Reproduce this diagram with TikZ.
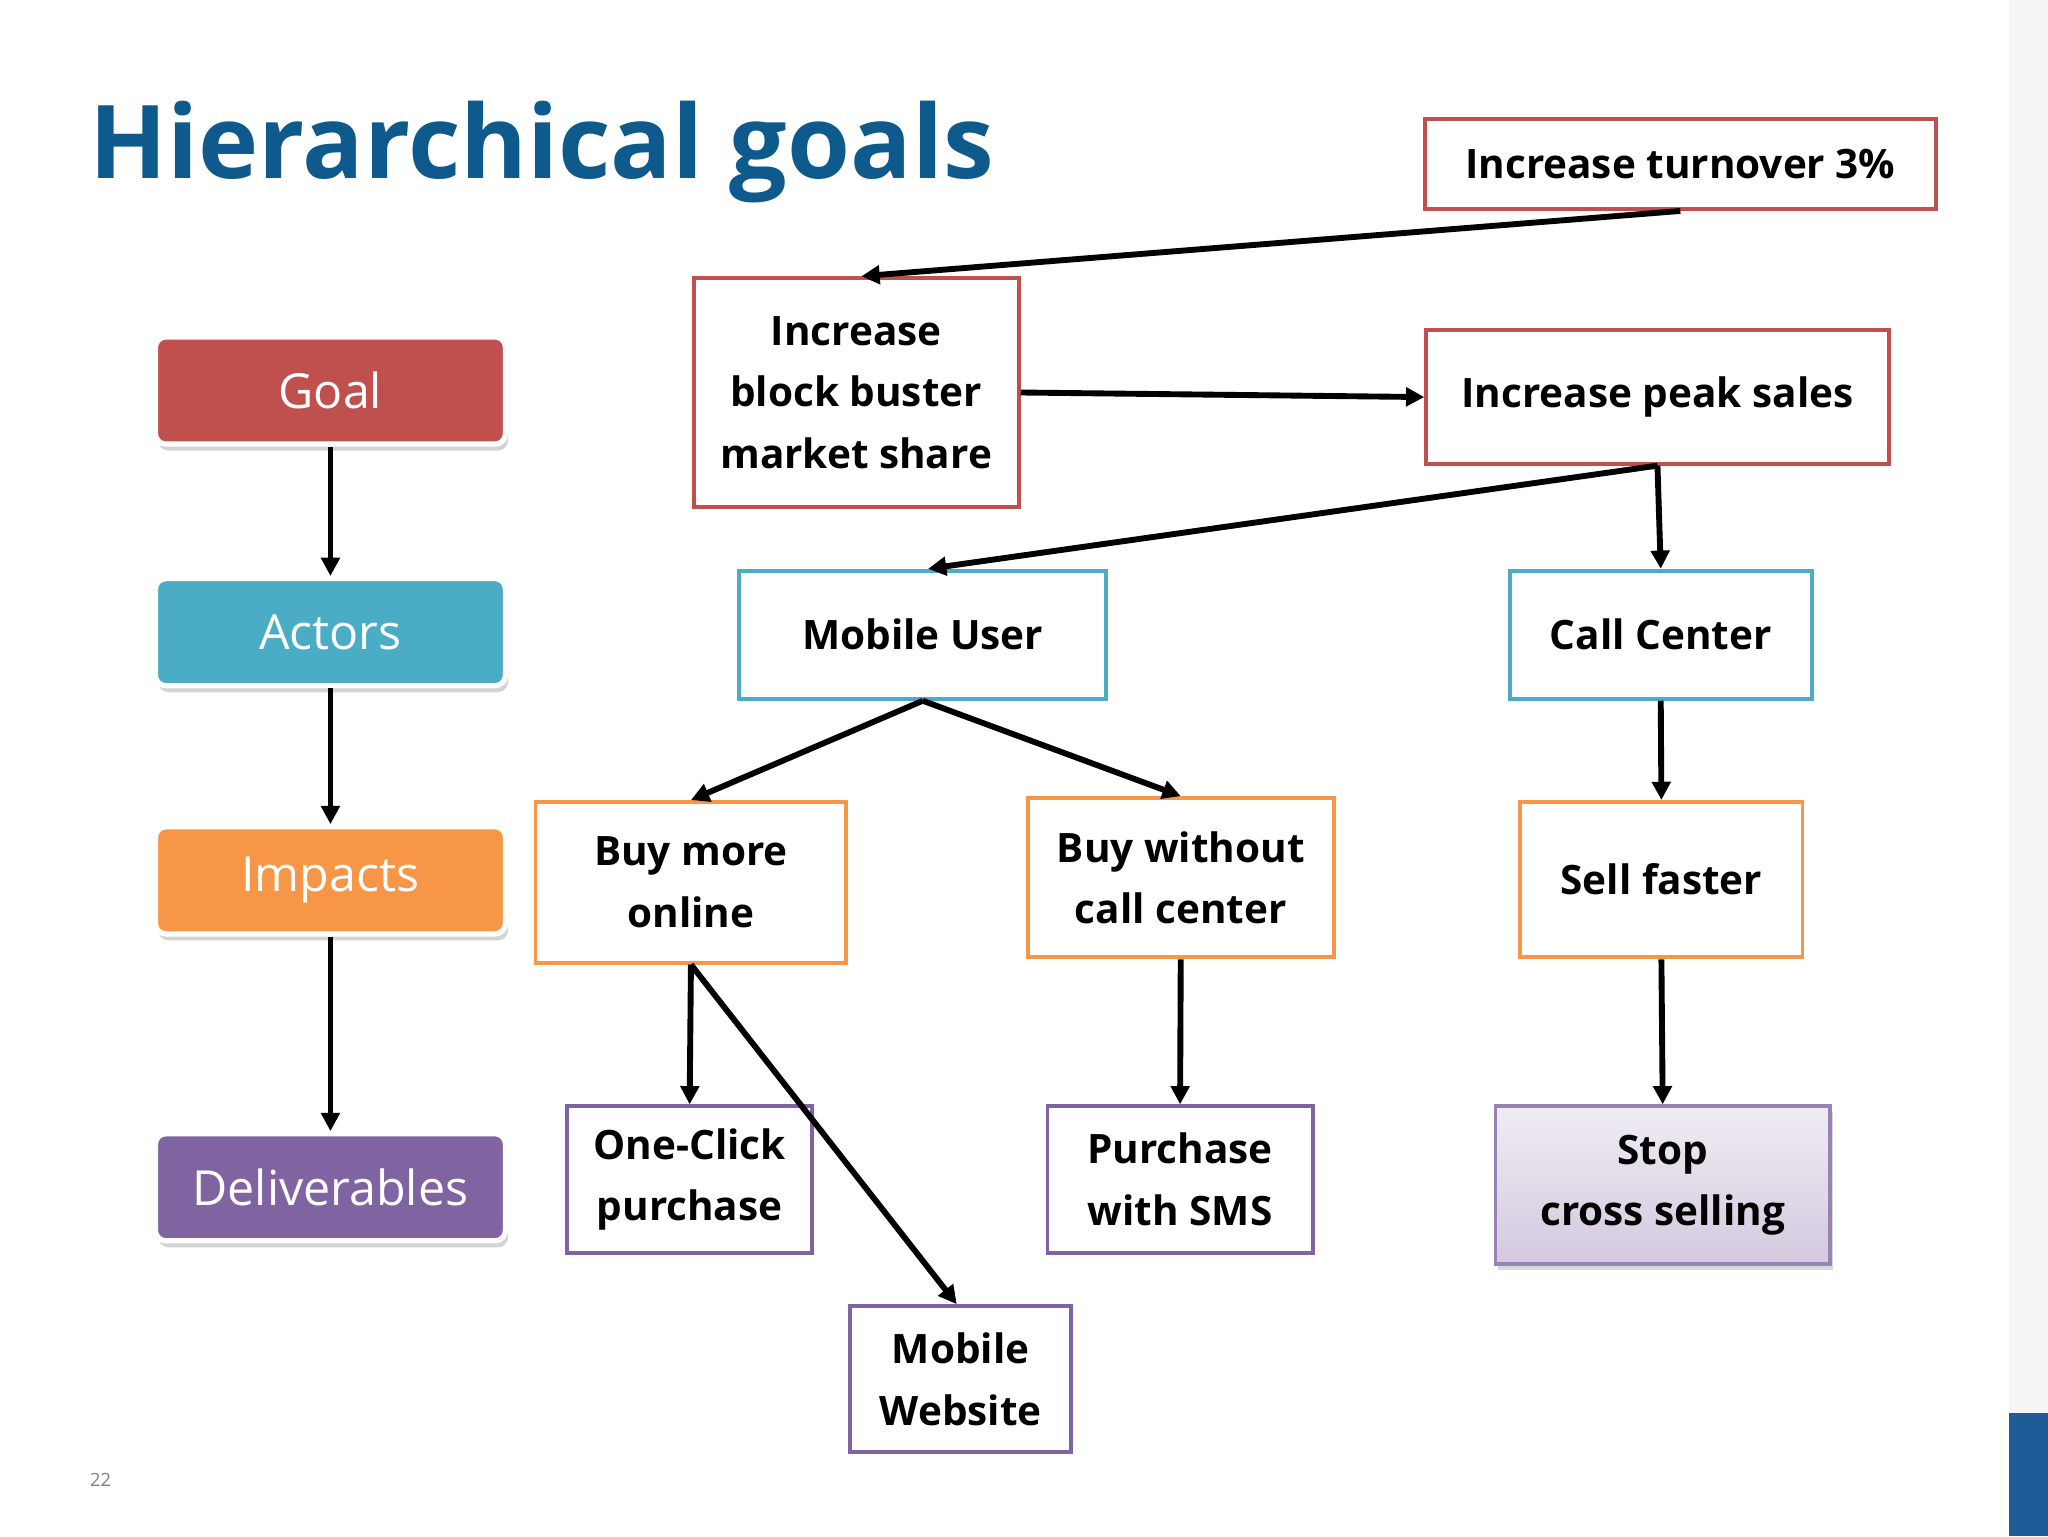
\documentclass[tikz,border=0pt]{standalone}
\usepackage{fontspec}
\setmainfont{Open Sans}
\usetikzlibrary{arrows.meta,shadows}
\definecolor{cred}{HTML}{C0504D}
\definecolor{cblue}{HTML}{4BACC6}
\definecolor{corange}{HTML}{F79646}
\definecolor{cpurple}{HTML}{8064A2}
\definecolor{ctitle}{HTML}{0E5A8C}
\definecolor{cbar}{HTML}{1D5C96}
\tikzset{
 gbox/.style={draw, line width=3, fill=white, align=center, font=\fontsize{31}{47}\selectfont\bfseries, inner sep=0},
 leg/.style={rounded corners=8, draw=white, line width=4, text=white, font=\fontsize{37}{44}\selectfont, minimum width=268, minimum height=82, drop shadow={opacity=0.35, shadow xshift=2, shadow yshift=5}},
 arr/.style={line width=4.5, -{Triangle[length=14,width=14]}},
}
\begin{document}
\begin{tikzpicture}[x=1pt,y=-1pt]
\useasboundingbox (0,0) rectangle (1568,1176);
\fill[gray!8] (1538,0) rectangle (1568,1176);
\fill[cbar] (1538,1082) rectangle (1568,1176);
\node[anchor=base west, inner sep=0, text=ctitle, font=\fontsize{78}{90}\selectfont\bfseries] (title) at (68,137) {Hierarchical goals};
\node[text=gray, font=\fontsize{14}{16}\selectfont] (pg) at (77,1133) {22};
% legend
\node[leg, fill=cred] (g) at (253,299) {Goal};
\node[leg, fill=cblue] (a) at (253,484) {Actors};
\node[leg, fill=corange] (i) at (253,674) {Impacts};
\node[leg, fill=cpurple] (d) at (253,909) {Deliverables};
\draw[arr] (g.south) -- (a.north);
\draw[arr] (a.south) -- (i.north);
\draw[arr] (i.south) -- (d.north);
% boxes
\node[gbox, draw=cred, minimum width=391, minimum height=69] (t) at (1286.5,125.5) {Increase turnover 3\%};
\node[gbox, draw=cred, minimum width=249, minimum height=175] (b) at (655.5,300.5) {Increase\\block buster\\market share};
\node[gbox, draw=cred, minimum width=354, minimum height=102] (p) at (1269,304) {Increase peak sales};
\node[gbox, draw=cblue, minimum width=281, minimum height=98] (mu) at (706.5,486) {Mobile User};
\node[gbox, draw=cblue, minimum width=231, minimum height=98] (cc) at (1271.5,486) {Call Center};
\node[gbox, draw=corange, minimum width=238, minimum height=123] (bm) at (529,675.5) {Buy more\\online};
\node[gbox, draw=corange, minimum width=234, minimum height=122] (bw) at (904,672) {Buy without\\call center};
\node[gbox, draw=corange, minimum width=216, minimum height=119] (sf) at (1272,673.5) {Sell faster};
\node[gbox, draw=cpurple, minimum width=188, minimum height=112] (oc) at (528,903) {One-Click\\purchase};
\node[gbox, draw=cpurple, minimum width=203, minimum height=112] (ps) at (903.5,903) {Purchase\\with SMS};
\node[gbox, draw=cpurple!80, top color=cpurple!12, bottom color=cpurple!35, minimum width=256, minimum height=121, drop shadow={opacity=0.3, shadow xshift=2, shadow yshift=4}] (st) at (1273,907.5) {Stop\\cross selling};
\node[gbox, draw=cpurple, minimum width=169, minimum height=112] (mw) at (735.5,1056) {Mobile\\Website};
% arrows
\draw[arr] (t.south) -- ([xshift=4]b.north);
\draw[arr] (b.east) -- (p.west);
\draw[arr] (p.south) -- ([xshift=4]mu.north);
\draw[arr] (p.south) -- (cc.north);
\draw[arr] (mu.south) -- (bm.north);
\draw[arr] (mu.south) -- (bw.north);
\draw[arr] (cc.south) -- (sf.north);
\draw[arr] (bm.south) -- (oc.north);
\draw[arr] (bm.south) -- ([xshift=-3]mw.north);
\draw[arr] (bw.south) -- (ps.north);
\draw[arr] (sf.south) -- (st.north);
\end{tikzpicture}
\end{document}
